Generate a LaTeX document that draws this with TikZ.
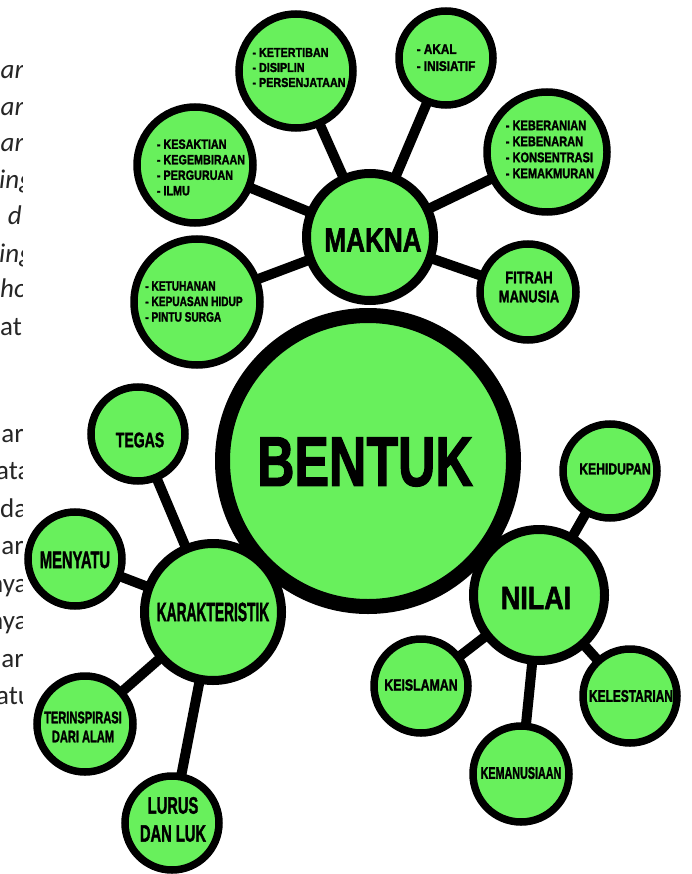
\documentclass[tikz,border=0pt]{standalone}
\usepackage{fontspec}
\usepackage{graphicx}
\setmainfont{Liberation Sans}
\newfontfamily\condfont{Liberation Sans}[BoldFeatures={FakeBold=2}]
\newfontfamily\calfont{Carlito}
\usetikzlibrary{backgrounds}
\definecolor{lime}{RGB}{104,240,92}
\newcommand\Lone[3]{\scalebox{#1}[1]{\fontsize{#2}{#2}\condfont\bfseries #3}}
\newcommand\Lmulti[5]{\scalebox{#1}[1]{\fontsize{#2}{#3}\condfont\bfseries\begin{tabular}{@{}#4@{}}#5\end{tabular}}}
\tikzset{
  bub/.style={circle, draw=black, fill=lime, line width=7.5pt, inner sep=0pt},
  midbub/.style={bub, line width=9pt},
  bigbub/.style={bub, line width=15pt},
  link/.style={line width=10pt, draw=black},
  lbl/.style={inner sep=0pt, text=black},
  frag/.style={font=\calfont\fontsize{27}{27}\selectfont, inner sep=0pt, text=black!85},
}
\begin{document}
\begin{tikzpicture}[x=1pt,y=-1pt]
\useasboundingbox (0,0) rectangle (691,874);

% left cropped text fragments
\begin{scope}
\clip (0,0) rectangle (22,874);
\node[frag, anchor=base east] (u1) at (24,79) {\itshape ar};
\node[frag, anchor=base east] (u2) at (24,116) {\itshape ar};
\node[frag, anchor=base east] (u3) at (24,152) {\itshape lar};
\node[frag, anchor=base west] (u4) at (-1,189) {\itshape ing};
\node[frag, anchor=base east] (u5) at (22,225) {\itshape d};
\node[frag, anchor=base west] (u6) at (-1,262) {\itshape ing};
\node[frag, anchor=base west] (u7) at (0,298) {\itshape ho};
\node[frag, anchor=base west] (u8) at (0,335) {at};
\node[frag, anchor=base east] (l1) at (24,442) {ar};
\node[frag, anchor=base west] (l2) at (-4,479) {ata};
\node[frag, anchor=base west] (l3) at (0,517) {da};
\node[frag, anchor=base east] (l4) at (24,554) {ar};
\node[frag, anchor=base west] (l5) at (-11,592) {nya};
\node[frag, anchor=base west] (l6) at (-11,629) {nya};
\node[frag, anchor=base east] (l7) at (24,667) {ar};
\node[frag, anchor=base west] (l8) at (-4,704) {atu};
\end{scope}

% circles
\node[bub, minimum size=114pt] (ket) at (296,71) {};
\node[bub, minimum size=94pt] (akal) at (446,58) {};
\node[bub, minimum size=120pt] (keb) at (547,152) {};
\node[bub, minimum size=96pt] (fitrah) at (528,292) {};
\node[bub, minimum size=116pt] (kes) at (195,165) {};
\node[bub, minimum size=126pt] (ketu) at (197,302) {};
\node[bub, minimum size=94pt] (tegas) at (138,434) {};
\node[bub, minimum size=94pt] (menyatu) at (75,559) {};
\node[bub, minimum size=96pt] (terins) at (85,724) {};
\node[bub, minimum size=94pt] (lurus) at (172,823) {};
\node[bub, minimum size=94pt] (kehid) at (610,471) {};
\node[bub, minimum size=94pt] (keisl) at (421,686) {};
\node[bub, minimum size=94pt] (keles) at (630,696) {};
\node[bub, minimum size=96pt] (keman) at (521,774) {};
\node[bigbub, minimum size=291pt] (bentuk) at (368,461) {};
\node[midbub, minimum size=127pt] (makna) at (370,237) {};
\node[midbub, minimum size=131pt] (nilai) at (539,595) {};
\node[midbub, minimum size=137pt] (karak) at (213,612) {};

% connectors
\begin{pgfonlayer}{background}
\fill[white] (0,0) rectangle (691,874);
\draw[link] (makna.center) -- (ket.center);
\draw[link] (makna.center) -- (akal.center);
\draw[link] (makna.center) -- (keb.center);
\draw[link] (makna.center) -- (fitrah.center);
\draw[link] (makna.center) -- (kes.center);
\draw[link] (makna.center) -- (ketu.center);
\draw[link] (karak.center) -- (tegas.center);
\draw[link] (karak.center) -- (menyatu.center);
\draw[link] (karak.center) -- (terins.center);
\draw[link] (karak.center) -- (lurus.center);
\draw[link] (nilai.center) -- (kehid.center);
\draw[link] (nilai.center) -- (keisl.center);
\draw[link] (nilai.center) -- (keles.center);
\draw[link] (nilai.center) -- (keman.center);
\end{pgfonlayer}

% labels
\node[lbl] (bentukT) at (365,462) {\Lone{0.74}{70}{BENTUK}};
\node[lbl] (maknaT) at (373,240) {\Lone{0.78}{33.5}{MAKNA}};
\node[lbl] (nilaiT) at (536,598) {\Lone{0.84}{32}{NILAI}};
\node[lbl] (karakT) at (213,612) {\Lone{0.52}{26.5}{KARAKTERISTIK}};
\node[lbl] (tegasT) at (140,440) {\Lone{0.67}{21}{TEGAS}};
\node[lbl] (menyatuT) at (75,560) {\Lone{0.62}{23.7}{MENYATU}};
\node[lbl] (terinsT) at (83,729) {\Lmulti{0.66}{16.8}{19}{c}{TERINSPIRASI\\DARI ALAM}};
\node[lbl] (lurusT) at (173,822) {\Lmulti{0.62}{23.7}{28}{c}{LURUS\\DAN LUK}};
\node[lbl] (kehidT) at (615,469) {\Lone{0.76}{16}{KEHIDUPAN}};
\node[lbl] (keislT) at (421,685) {\Lone{0.77}{16}{KEISLAMAN}};
\node[lbl] (kelesT) at (631,696) {\Lone{0.71}{16.8}{KELESTARIAN}};
\node[lbl] (kemanT) at (521,773) {\Lone{0.64}{16.8}{KEMANUSIAAN}};
\node[lbl] (fitrahT) at (529,289) {\Lmulti{0.77}{16.8}{19}{c}{FITRAH\\MANUSIA}};
\node[lbl] (kebT) at (550,151) {\Lmulti{0.79}{14}{16}{l}{- KEBERANIAN\\- KEBENARAN\\- KONSENTRASI\\- KEMAKMURAN}};
\node[lbl] (akalT) at (446,59) {\Lmulti{0.84}{14}{17}{l}{- AKAL\\- INISIATIF}};
\node[lbl] (ketT) at (299,69) {\Lmulti{0.83}{13}{15}{l}{- KETERTIBAN\\- DISIPLIN\\- PERSENJATAAN}};
\node[lbl] (kesT) at (201,169) {\Lmulti{0.80}{13.5}{15.5}{l}{- KESAKTIAN\\- KEGEMBIRAAN\\- PERGURUAN\\- ILMU}};
\node[lbl] (ketuT) at (194,303) {\Lmulti{0.75}{13.5}{15.5}{l}{- KETUHANAN\\- KEPUASAN HIDUP\\- PINTU SURGA}};
\end{tikzpicture}
\end{document}
